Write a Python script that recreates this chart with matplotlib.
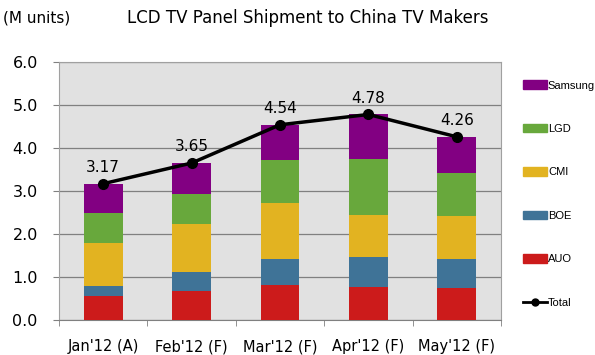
import matplotlib
matplotlib.use("Agg")
import matplotlib.pyplot as plt
import numpy as np
from matplotlib.patches import Patch
from matplotlib.lines import Line2D

categories = ["Jan'12 (A)", "Feb'12 (F)", "Mar'12 (F)", "Apr'12 (F)", "May'12 (F)"]
auo = [0.55, 0.67, 0.82, 0.76, 0.74]
boe = [0.23, 0.45, 0.60, 0.70, 0.69]
cmi = [1.00, 1.11, 1.29, 0.98, 1.00]
lgd = [0.70, 0.69, 1.01, 1.30, 1.00]
samsung = [0.69, 0.73, 0.82, 1.04, 0.83]
total = [3.17, 3.65, 4.54, 4.78, 4.26]
yticks = [0.0, 1.0, 2.0, 3.0, 4.0, 5.0, 6.0]

series = [("AUO", auo, "#cc1b1b"), ("BOE", boe, "#3f7397"),
          ("CMI", cmi, "#e2b321"), ("LGD", lgd, "#68a83c"),
          ("Samsung", samsung, "#820082")]

plt.rcParams['font.family'] = ['DejaVu Sans']
fig = plt.figure(figsize=(5.95, 3.55), dpi=100)
ax = fig.add_axes([59/595, 1-320/355, (501-59)/595, (320-62)/355])
ax.set_facecolor("#e1e1e1")

x = np.arange(len(categories))
bottom = np.zeros(len(categories))
for name, vals, col in series:
    ax.bar(x, vals, width=0.44, bottom=bottom, color=col, zorder=3)
    bottom += np.array(vals)

ax.plot(x, total, color="black", lw=2.5, marker="o", ms=7, zorder=4)
for xi, t in zip(x, total):
    ax.text(xi, t + 0.2, f"{t:.2f}", ha="center", va="bottom", fontsize=11, zorder=5)

ax.set_xlim(-0.5, len(categories) - 0.5)
ax.set_ylim(0, 6.0)
ax.set_yticks(yticks)
ax.set_yticklabels([f"{v:.1f}" for v in yticks], fontsize=11.5)
ax.yaxis.grid(True, color="#808080", lw=0.9, zorder=1)
ax.tick_params(axis="y", length=4.3, color="#808080", pad=11)

ax.set_xticks(x)
ax.set_xticklabels(categories, fontsize=10.5)
ax.tick_params(axis="x", length=0, pad=14)
ax.set_xticks(np.arange(-0.5, len(categories)), minor=True)
ax.tick_params(axis="x", which="minor", length=4, color="#808080")

for s in ["top", "right", "left"]:
    ax.spines[s].set_color("#a0a0a0")
    ax.spines[s].set_linewidth(0.8)
ax.spines["bottom"].set_color("#808080")

handles = [Patch(color=col, label=name) for name, _, col in reversed(series)]
handles.append(Line2D([0], [0], color="black", lw=2, marker="o", ms=5, label="Total"))
fig.legend(handles=handles, loc="upper left", bbox_to_anchor=(519/595, 1-76/355),
           frameon=False, prop={"family": "Liberation Sans", "size": 8},
           labelspacing=3.0, handlelength=2.1, handleheight=0.8,
           handletextpad=0.1, borderaxespad=0)

fig.text(3/595, 1-18/355, "(M units)", fontsize=11, va="center", ha="left")
fig.text(308/595, 1-18/355, "LCD TV Panel Shipment to China TV Makers", fontsize=12,
         va="center", ha="center")

fig.savefig("out.png", dpi=100)
